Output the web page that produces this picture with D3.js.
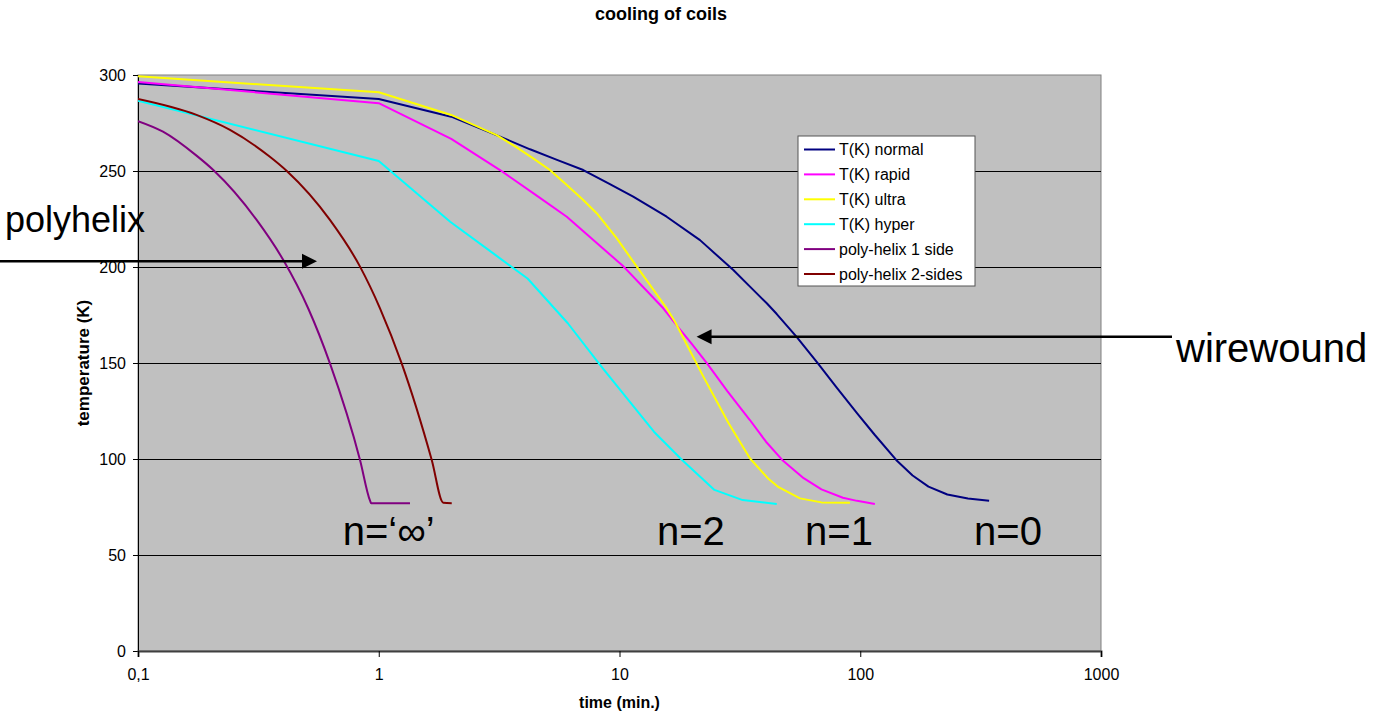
<!DOCTYPE html>
<html>
<head>
<meta charset="utf-8">
<script src="https://cdn.jsdelivr.net/npm/d3@7"></script>
<style>
  body { margin: 0; background: #fff; }
  svg { display: block; font-family: "Liberation Sans", Arial, sans-serif; }
</style>
</head>
<body>
<div id="chart"></div>
<script>
// series data, time in minutes, temperature in K
const normalTime = [0.1, 1, 2, 3.19, 4.25, 5.5, 7.07, 9, 11.4, 15.7, 21.6, 29.7, 35, 40.9, 45, 54.3, 66.7, 80, 97.1, 115, 141, 165, 192, 230, 280, 343];
const normalTemp = [295.6, 287.5, 278.3, 267.9, 261.3, 255.8, 250.5, 243.5, 236.6, 226.2, 214, 198.4, 189.5, 181.1, 175.5, 163.7, 149.8, 137, 123.8, 112.5, 99.5, 91.4, 85.6, 81.5, 79.4, 78.3];

const rapidTime = [0.1, 1, 2, 3.19, 4.5, 6.04, 8, 10.4, 13, 15.2, 17, 20, 23.1, 28, 34.8, 40.6, 47.4, 58.2, 69, 84.7, 97, 115];
const rapidTemp = [296.4, 285.3, 266.7, 250.5, 237.4, 226.2, 212.8, 200.2, 187.5, 178.5, 170.7, 159.8, 149.8, 135.5, 120.3, 109, 99.5, 90, 84.2, 79.8, 78.2, 76.6];

const ultraTime = [0.1, 1, 2, 3.09, 3.74, 4.38, 5.14, 6.04, 7.07, 8.04, 9.73, 11.8, 13.4, 15.7, 17, 22.3, 28.4, 34.8, 41.3, 45.8, 56.2, 69, 90.6];
const ultraTemp = [299.3, 291, 279.2, 268.7, 262.3, 256.6, 250.5, 242.7, 234.9, 228, 215, 200.2, 190.6, 178.5, 171.5, 142.9, 118.6, 100.4, 90, 85.3, 79.5, 77.4, 77.2];

const hyperTime = [0.1, 1, 1.98, 2.99, 4.15, 6.1, 8.3, 11, 13.9, 18.2, 24.8, 32.5, 45];
const hyperTemp = [286.6, 255.2, 223.6, 207.1, 194, 170.7, 149, 130, 114.2, 99.5, 83.9, 78.6, 76.6];

const poly1Time = [0.1, 0.127, 0.175, 0.2055, 0.311, 0.4014, 0.509, 0.627, 0.836, 0.92, 0.93, 1.348];
const poly1Temp = [276, 270.5, 258, 250.5, 224.5, 203.6, 178.5, 149.8, 99.5, 78.3, 77, 77];

const poly2Time = [0.1, 0.175, 0.241, 0.353, 0.415, 0.627, 0.836, 1.012, 1.245, 1.66, 1.854, 2.01];
const poly2Temp = [287.5, 279.2, 271.4, 257.4, 250, 224.5, 200.2, 178.5, 149.8, 99.5, 77.2, 77];

const seriesNames = ["T(K) normal", "T(K) rapid", "T(K) ultra", "T(K) hyper", "poly-helix 1 side", "poly-helix 2-sides"];
const seriesColors = ["#000080", "#ff00ff", "#ffff00", "#00ffff", "#800080", "#800000"];

const xTicks = [0.1, 1, 10, 100, 1000];
const xTickLabels = ["0,1", "1", "10", "100", "1000"];
const yTicks = [0, 50, 100, 150, 200, 250, 300];

const series = [
    [normalTime, normalTemp, false],
    [rapidTime, rapidTemp, false],
    [ultraTime, ultraTemp, false],
    [hyperTime, hyperTemp, false],
    [poly1Time, poly1Temp, true],
    [poly2Time, poly2Temp, true],
].map((s, i) => ({
    name: seriesNames[i],
    color: seriesColors[i],
    smooth: s[2],
    values: s[0].map((t, j) => [t, s[1][j]])
}));

const W = 1378, H = 716;
const plotLeft = 138, plotRight = 1101, plotTop = 75, plotBottom = 651;

const x = d3.scaleLog().domain([0.1, 1000]).range([plotLeft, plotRight]);
const y = d3.scaleLinear().domain([0, 300]).range([plotBottom, plotTop]);

const svg = d3.select("#chart").append("svg").attr("width", W).attr("height", H);

// plot background
svg.append("rect")
    .attr("x", plotLeft).attr("y", plotTop)
    .attr("width", plotRight - plotLeft).attr("height", plotBottom - plotTop)
    .attr("fill", "#c0c0c0").attr("stroke", "#808080").attr("stroke-width", 1);

// gridlines
svg.append("g").selectAll("line").data(yTicks.filter(d => d > 0 && d < 300)).enter().append("line")
    .attr("x1", plotLeft).attr("x2", plotRight)
    .attr("y1", d => y(d) + 0.5).attr("y2", d => y(d) + 0.5)
    .attr("stroke", "#000").attr("stroke-width", 1);

// axes
const yAxis = svg.append("g").attr("transform", `translate(${plotLeft},0)`)
    .call(d3.axisLeft(y).tickValues(yTicks).tickSize(5).tickPadding(7));
const xAxis = svg.append("g").attr("transform", `translate(0,${plotBottom})`)
    .call(d3.axisBottom(x).tickValues(xTicks).tickFormat((d, i) => xTickLabels[i]).tickSize(6).tickPadding(12));
[yAxis, xAxis].forEach(g => {
    g.selectAll("text").attr("font-size", 16).attr("fill", "#000").attr("font-family", "Liberation Sans, Arial, sans-serif");
    g.selectAll("line").attr("stroke", "#000");
    g.select(".domain").attr("stroke", "#000");
});
xAxis.select(".domain").attr("stroke", "#404040").attr("stroke-width", 2);

// series lines
svg.append("clipPath").attr("id", "plotclip").append("rect")
    .attr("x", plotLeft).attr("y", plotTop - 2).attr("width", plotRight - plotLeft).attr("height", plotBottom - plotTop + 2);

const lineLinear = d3.line().x(d => x(d[0])).y(d => y(d[1]));
const lineSmooth = d3.line().x(d => x(d[0])).y(d => y(d[1])).curve(d3.curveMonotoneX);

svg.append("g").attr("clip-path", "url(#plotclip)").selectAll("path").data(series).enter().append("path")
    .attr("d", d => (d.smooth ? lineSmooth : lineLinear)(d.values))
    .attr("fill", "none")
    .attr("stroke", d => d.color)
    .attr("stroke-width", 2)
    .attr("stroke-linejoin", "round");

// legend
const legend = svg.append("g").attr("transform", "translate(798,136)");
legend.append("rect").attr("width", 177).attr("height", 150)
    .attr("fill", "#fff").attr("stroke", "#555").attr("stroke-width", 1);
const rows = legend.selectAll("g").data(series).enter().append("g")
    .attr("transform", (d, i) => `translate(0,${13.5 + i * 24.9})`);
rows.append("line").attr("x1", 6).attr("x2", 37).attr("stroke", d => d.color).attr("stroke-width", 2);
rows.append("text").attr("x", 41).attr("dy", "0.35em").attr("font-size", 16).text(d => d.name);

// titles
svg.append("text").attr("x", 661).attr("y", 20).attr("text-anchor", "middle")
    .attr("font-weight", "bold").attr("font-size", 18).text("cooling of coils");
svg.append("text").attr("x", (plotLeft + plotRight) / 2).attr("y", 708).attr("text-anchor", "middle")
    .attr("font-weight", "bold").attr("font-size", 16).text("time (min.)");
svg.append("text").attr("transform", `translate(89,${(plotTop + plotBottom) / 2}) rotate(-90)`)
    .attr("text-anchor", "middle").attr("font-weight", "bold").attr("font-size", 17).text("temperature (K)");

// annotations
const arrowData = [
    { t: 0.554, T: 203, tail: 0 },
    { t: 20.9, T: 163.7, tail: 1172 }
];
const arrows = svg.append("g");
arrowData.forEach(a => {
    const tx = x(a.t), ty = y(a.T);
    const dir = a.tail < tx ? 1 : -1;
    const hl = 15, hw = 7.5;
    arrows.append("line").attr("x1", a.tail).attr("x2", tx - dir * hl + dir * 1)
        .attr("y1", ty).attr("y2", ty).attr("stroke", "#000").attr("stroke-width", 2.5);
    arrows.append("path")
        .attr("d", `M${tx},${ty}L${tx - dir * hl},${ty - hw}L${tx - dir * hl},${ty + hw}Z`)
        .attr("fill", "#000");
});

svg.append("text").attr("x", 5).attr("y", 232).attr("font-size", 36).text("polyhelix");
svg.append("text").attr("x", 1176).attr("y", 362).attr("font-size", 40).text("wirewound");

const nLabels = [
    { text: "n=‘∞’", t: 1.10 },
    { text: "n=2", t: 19.8 },
    { text: "n=1", t: 81.6 },
    { text: "n=0", t: 411 }
];
svg.append("g").selectAll("text").data(nLabels).enter().append("text")
    .attr("x", d => x(d.t)).attr("y", y(55)).attr("text-anchor", "middle")
    .attr("font-size", 40).text(d => d.text);
</script>
</body>
</html>
